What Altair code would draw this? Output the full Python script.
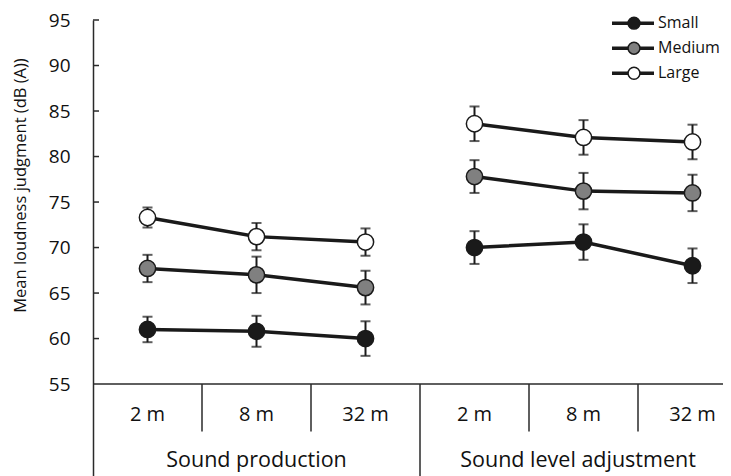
import altair as alt
import pandas as pd

# ---- data ----
tasks = ["Sound production", "Sound level adjustment"]
distances = ["2 m", "8 m", "32 m"]
sizes = ["Small", "Medium", "Large"]

# order: production 2/8/32 m, then adjustment 2/8/32 m
small_mean = [61.0, 60.8, 60.0, 70.0, 70.6, 68.0]
medium_mean = [67.7, 67.0, 65.6, 77.8, 76.2, 76.0]
large_mean = [73.3, 71.2, 70.6, 83.6, 82.1, 81.6]
small_err = [1.4, 1.7, 1.9, 1.8, 1.95, 1.9]
medium_err = [1.5, 2.0, 1.85, 1.8, 2.0, 2.0]
large_err = [1.1, 1.5, 1.5, 1.9, 1.9, 1.9]

y_ticks = [55, 60, 65, 70, 75, 80, 85, 90, 95]
y_title = "Mean loudness judgment (dB (A))"

# ---- layout ----
W, H = 630, 456
XMAX = W / 109
YMIN, YMAX = 44.9, 95
INK = "#1a1a1a"
TXT = "#111111"
AX = "#2a2a2a"
FONT = "Open Sans"
fills = ["#1a1a1a", "#808080", "#ffffff"]

means = {"Small": small_mean, "Medium": medium_mean, "Large": large_mean}
errs = {"Small": small_err, "Medium": medium_err, "Large": large_err}
rows = []
for s in sizes:
    for i in range(6):
        m, e = means[s][i], errs[s][i]
        rows.append({"size": s, "task": tasks[i // 3], "grp": s + tasks[i // 3],
                     "x": i + 0.5, "mean": m, "lo": m - e, "hi": m + e})
df = pd.DataFrame(rows)

xs = alt.Scale(domain=[0, XMAX], nice=False, zero=False)
ys = alt.Scale(domain=[YMIN, YMAX], nice=False, zero=False)
fill_scale = alt.Scale(domain=sizes, range=fills)

base = alt.Chart(df)

lines = base.mark_line(strokeWidth=3.5, color=INK).encode(
    x=alt.X("x:Q", scale=xs, axis=None),
    y=alt.Y("mean:Q", scale=ys, axis=alt.Axis(
        values=y_ticks, title=y_title, grid=False, ticks=False, tickSize=0,
        domainColor=AX, domainWidth=1.5,
        labelFont=FONT, labelFontSize=19, labelColor=TXT, labelPadding=23,
        titleFont=FONT, titleFontSize=16.5, titleFontWeight="normal", titleColor=TXT,
        titleX=-73, titleY=165, titleAlign="center", titleBaseline="middle")),
    detail="grp:N",
)

bars = base.mark_rule(strokeWidth=2, color=INK).encode(
    x=alt.X("x:Q", scale=xs), y=alt.Y("lo:Q", scale=ys), y2="hi:Q")
cap_lo = base.mark_tick(orient="horizontal", size=10, thickness=2, color=INK).encode(
    x=alt.X("x:Q", scale=xs), y=alt.Y("lo:Q", scale=ys))
cap_hi = base.mark_tick(orient="horizontal", size=10, thickness=2, color=INK).encode(
    x=alt.X("x:Q", scale=xs), y=alt.Y("hi:Q", scale=ys))

points = base.mark_point(shape="circle", filled=True, size=265, stroke=INK,
                         strokeWidth=1.5, opacity=1).encode(
    x=alt.X("x:Q", scale=xs), y=alt.Y("mean:Q", scale=ys),
    fill=alt.Fill("size:N", scale=fill_scale, legend=None))

# y tick marks pointing inward
ytick_df = pd.DataFrame({"y": y_ticks[1:]})
yticks = alt.Chart(ytick_df).mark_rule(color=AX, strokeWidth=1.5).encode(
    y=alt.Y("y:Q", scale=ys), x=alt.value(0), x2=alt.value(6))

# category table under the plot
hline = alt.Chart(pd.DataFrame({"y": [55]})).mark_rule(color=AX, strokeWidth=1.5).encode(
    y=alt.Y("y:Q", scale=ys))
div_df = pd.DataFrame({"x": [1, 2, 4, 5], "y": [55] * 4, "y2": [49.8] * 4})
dividers = alt.Chart(div_df).mark_rule(color=AX, strokeWidth=1.5).encode(
    x=alt.X("x:Q", scale=xs), y=alt.Y("y:Q", scale=ys), y2="y2:Q")
gdiv = alt.Chart(pd.DataFrame({"x": [3], "y": [55], "y2": [YMIN]})).mark_rule(
    color=AX, strokeWidth=1.5).encode(
    x=alt.X("x:Q", scale=xs), y=alt.Y("y:Q", scale=ys), y2="y2:Q")

dist_df = pd.DataFrame({"x": [0.5, 1.5, 2.5, 3.5, 4.5, 5.5],
                        "y": [51.55] * 6, "t": distances * 2})
dist_text = alt.Chart(dist_df).mark_text(font=FONT, fontSize=20, color=TXT,
                                         baseline="middle", align="center").encode(
    x=alt.X("x:Q", scale=xs), y=alt.Y("y:Q", scale=ys), text="t:N")
grp_df = pd.DataFrame({"x": [1.5, 4.45], "y": [46.55, 46.55], "t": tasks})
grp_text = alt.Chart(grp_df).mark_text(font=FONT, fontSize=21.5, color=TXT,
                                       baseline="middle", align="center").encode(
    x=alt.X("x:Q", scale=xs), y=alt.Y("y:Q", scale=ys), text="t:N")

# legend
leg_df = pd.DataFrame({"size": sizes, "y": [94.65, 91.9, 89.15]})
leg = alt.Chart(leg_df)
leg_line = leg.mark_rule(strokeWidth=3.5, color=INK).encode(
    y=alt.Y("y:Q", scale=ys), x=alt.value(519), x2=alt.value(561))
leg_pt = leg.mark_point(shape="circle", filled=True, size=140, stroke=INK,
                        strokeWidth=1.5, opacity=1).encode(
    y=alt.Y("y:Q", scale=ys), x=alt.value(541),
    fill=alt.Fill("size:N", scale=fill_scale, legend=None))
leg_txt = leg.mark_text(font=FONT, fontSize=16, color=TXT, align="left",
                        baseline="middle").encode(
    y=alt.Y("y:Q", scale=ys), x=alt.value(565), text="size:N")

chart = alt.layer(
    lines, yticks, hline, dividers, gdiv, dist_text, grp_text,
    bars, cap_lo, cap_hi, points, leg_line, leg_pt, leg_txt
).properties(
    width=W, height=H,
    autosize=alt.AutoSizeParams(type="none"),
    padding={"left": 85, "top": 12, "right": 0, "bottom": 0},
    background="white",
).configure_view(stroke=None)

chart.save("out.html", embed_options={"renderer": "svg", "actions": False})
